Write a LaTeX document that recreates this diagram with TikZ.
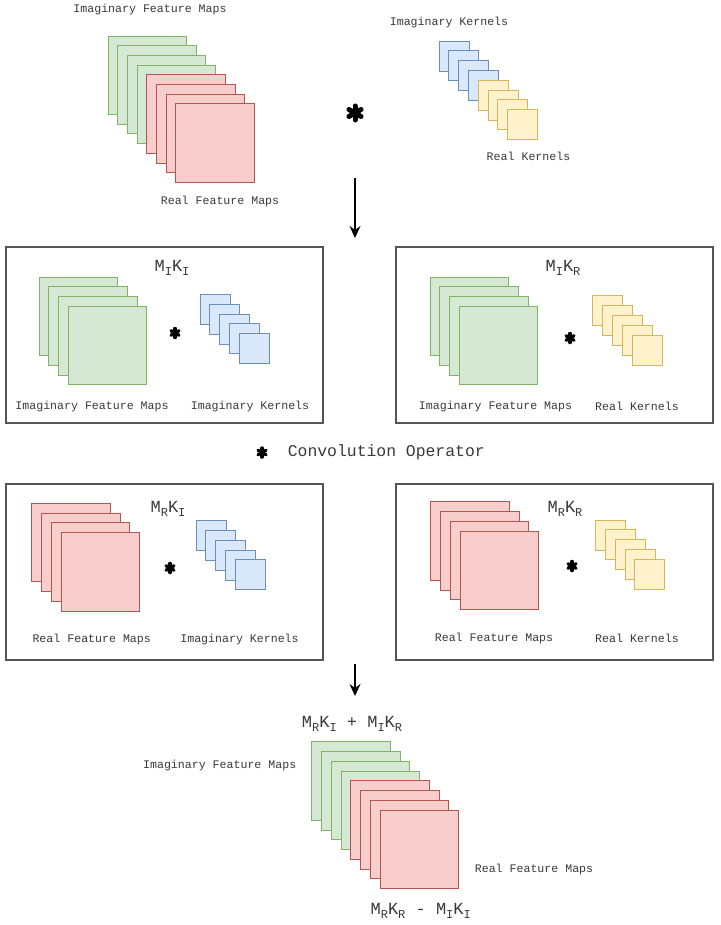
\documentclass[tikz,border=0pt]{standalone}
\usepackage{fontspec}
\setmonofont{Liberation Mono}
\usetikzlibrary{arrows.meta}
\definecolor{gfill}{HTML}{D5E8D4}\definecolor{gline}{HTML}{82B366}
\definecolor{rfill}{HTML}{F8CECC}\definecolor{rline}{HTML}{B85450}
\definecolor{bfill}{HTML}{DAE8FC}\definecolor{bline}{HTML}{6C8EBF}
\definecolor{yfill}{HTML}{FFF2CC}\definecolor{yline}{HTML}{D6B656}
\definecolor{txt}{HTML}{3A3A3A}
\definecolor{frame}{HTML}{555555}
\newcommand{\lsub}[1]{\raisebox{-4.5pt}{\fontsize{12}{12}\selectfont #1}}
\tikzset{
  big/.style={draw, line width=0.9pt, minimum size=78.5pt, inner sep=0pt, outer sep=0pt},
  small/.style={draw, line width=0.9pt, minimum size=30pt, inner sep=0pt, outer sep=0pt},
  gsq/.style={fill=gfill, draw=gline},
  rsq/.style={fill=rfill, draw=rline},
  bsq/.style={fill=bfill, draw=bline},
  ysq/.style={fill=yfill, draw=yline},
  panel/.style={draw=frame, line width=1.2pt, minimum width=317pt, minimum height=176pt, inner sep=0pt},
  lbl/.style={font=\ttfamily\fontsize{11.6}{12}\selectfont, text=txt, inner sep=0pt},
  mlbl/.style={font=\ttfamily\fontsize{17}{18}\selectfont, text=txt, inner sep=0pt},
  conv/.style={font=\ttfamily\fontsize{16.4}{18}\selectfont, text=txt, inner sep=0pt},
  starpt/.style={inner sep=0pt, minimum size=1pt},
  arr/.style={-{Stealth[length=12pt,width=11pt]}, line width=1.3pt}
}
% asterisk drawn from three round-capped strokes: #1 node name, #2 half length, #3 stroke width
\newcommand{\aster}[3]{%
  \foreach \a in {90,30,150}
    \draw[line width=#3, line cap=round] ([shift={(\a:#2)}]#1.center) -- ([shift={(\a+180:#2)}]#1.center);}
\begin{document}
\begin{tikzpicture}[x=1pt,y=-1pt]
\useasboundingbox[fill=white] (0,0) rectangle (720,925);
% panels
\node[panel] (p1) at (164.5,335) {};
\node[panel] (p2) at (554.5,335) {};
\node[panel] (p3) at (164.5,572) {};
\node[panel] (p4) at (554.5,572) {};
% top feature maps
\foreach \i in {0,...,3} \node[big,gsq] (tg\i) at ({108+39.25+\i*9.7},{36+39.25+\i*9.7}) {};
\foreach \i in {4,...,7} \node[big,rsq] (tr\i) at ({108+39.25+\i*9.7},{36+39.25+\i*9.7}) {};
% top kernels
\foreach \i in {0,...,3} \node[small,bsq] (tb\i) at ({439+15+\i*9.8},{41+15+\i*9.8}) {};
\foreach \i in {4,...,7} \node[small,ysq] (ty\i) at ({439+15+\i*9.8},{41+15+\i*9.8}) {};
\node[lbl] (tl1) at (150,10) {Imaginary Feature Maps};
\node[lbl] (tl2) at (220,202) {Real Feature Maps};
\node[lbl] (tl3) at (449,22.5) {Imaginary Kernels};
\node[lbl] (tl4) at (528.5,156) {Real Kernels};
\node[starpt] (ts) at (355,113) {};
\aster{ts}{7pt}{5pt}
% arrow 1
\coordinate (a1s) at (355,178);
\coordinate (a1e) at (355,238);
\draw[arr] (a1s) -- (a1e);
% panel 1
\foreach \i in {0,...,3} \node[big,gsq] (g1\i) at ({39+39.25+\i*9.8},{277+39.25+\i*9.8}) {};
\foreach \i in {0,...,4} \node[small,bsq] (b1\i) at ({200+15+\i*9.8},{294.5+15+\i*9.8}) {};
\node[mlbl] (m1) at (172,268) {M\lsub{I}K\lsub{I}};
\node[starpt] (s1) at (175,333) {};
\aster{s1}{4.6pt}{3.3pt}
\node[lbl] (l11) at (92,406) {Imaginary Feature Maps};
\node[lbl] (l12) at (250,406) {Imaginary Kernels};
% panel 2
\foreach \i in {0,...,3} \node[big,gsq] (g2\i) at ({430+39.25+\i*9.8},{277+39.25+\i*9.8}) {};
\foreach \i in {0,...,4} \node[small,ysq] (y2\i) at ({592+15+\i*10},{295+15+\i*10}) {};
\node[mlbl] (m2) at (563,268) {M\lsub{I}K\lsub{R}};
\node[starpt] (s2) at (570,338) {};
\aster{s2}{4.6pt}{3.3pt}
\node[lbl] (l21) at (495.5,406) {Imaginary Feature Maps};
\node[lbl] (l22) at (637,406) {Real Kernels};
% convolution legend
\node[starpt] (cs) at (262,452.5) {};
\aster{cs}{4.6pt}{3.3pt}
\node[conv] (ct) at (386.3,452.5) {Convolution Operator};
% panel 3
\foreach \i in {0,...,3} \node[big,rsq] (r3\i) at ({31.7+39.25+\i*9.8},{503.3+39.25+\i*9.8}) {};
\foreach \i in {0,...,4} \node[small,bsq] (b3\i) at ({196+15+\i*9.8},{520.7+15+\i*9.8}) {};
\node[mlbl] (m3) at (168,509) {M\lsub{R}K\lsub{I}};
\node[starpt] (s3) at (170,568) {};
\aster{s3}{4.6pt}{3.3pt}
\node[lbl] (l31) at (91.7,639) {Real Feature Maps};
\node[lbl] (l32) at (239.5,639) {Imaginary Kernels};
% panel 4
\foreach \i in {0,...,3} \node[big,rsq] (r4\i) at ({430.7+39.25+\i*9.8},{501.7+39.25+\i*9.8}) {};
\foreach \i in {0,...,4} \node[small,ysq] (y4\i) at ({595.7+15+\i*9.8},{520+15+\i*9.8}) {};
\node[mlbl] (m4) at (565,509) {M\lsub{R}K\lsub{R}};
\node[starpt] (s4) at (572,566) {};
\aster{s4}{4.6pt}{3.3pt}
\node[lbl] (l41) at (494,638) {Real Feature Maps};
\node[lbl] (l42) at (637,638) {Real Kernels};
% arrow 2
\coordinate (a2s) at (355,664);
\coordinate (a2e) at (355,696);
\draw[arr] (a2s) -- (a2e);
% bottom result
\foreach \i in {0,...,3} \node[big,gsq] (bg\i) at ({311.7+39.25+\i*9.76},{741.7+39.25+\i*9.76}) {};
\foreach \i in {4,...,7} \node[big,rsq] (br\i) at ({311.7+39.25+\i*9.76},{741.7+39.25+\i*9.76}) {};
\node[mlbl] (bm1) at (352,724) {M\lsub{R}K\lsub{I} + M\lsub{I}K\lsub{R}};
\node[lbl] (bl1) at (219.7,765) {Imaginary Feature Maps};
\node[lbl] (bl2) at (534,869) {Real Feature Maps};
\node[mlbl] (bm2) at (420.7,911) {M\lsub{R}K\lsub{R} - M\lsub{I}K\lsub{I}};
\end{tikzpicture}
\end{document}
